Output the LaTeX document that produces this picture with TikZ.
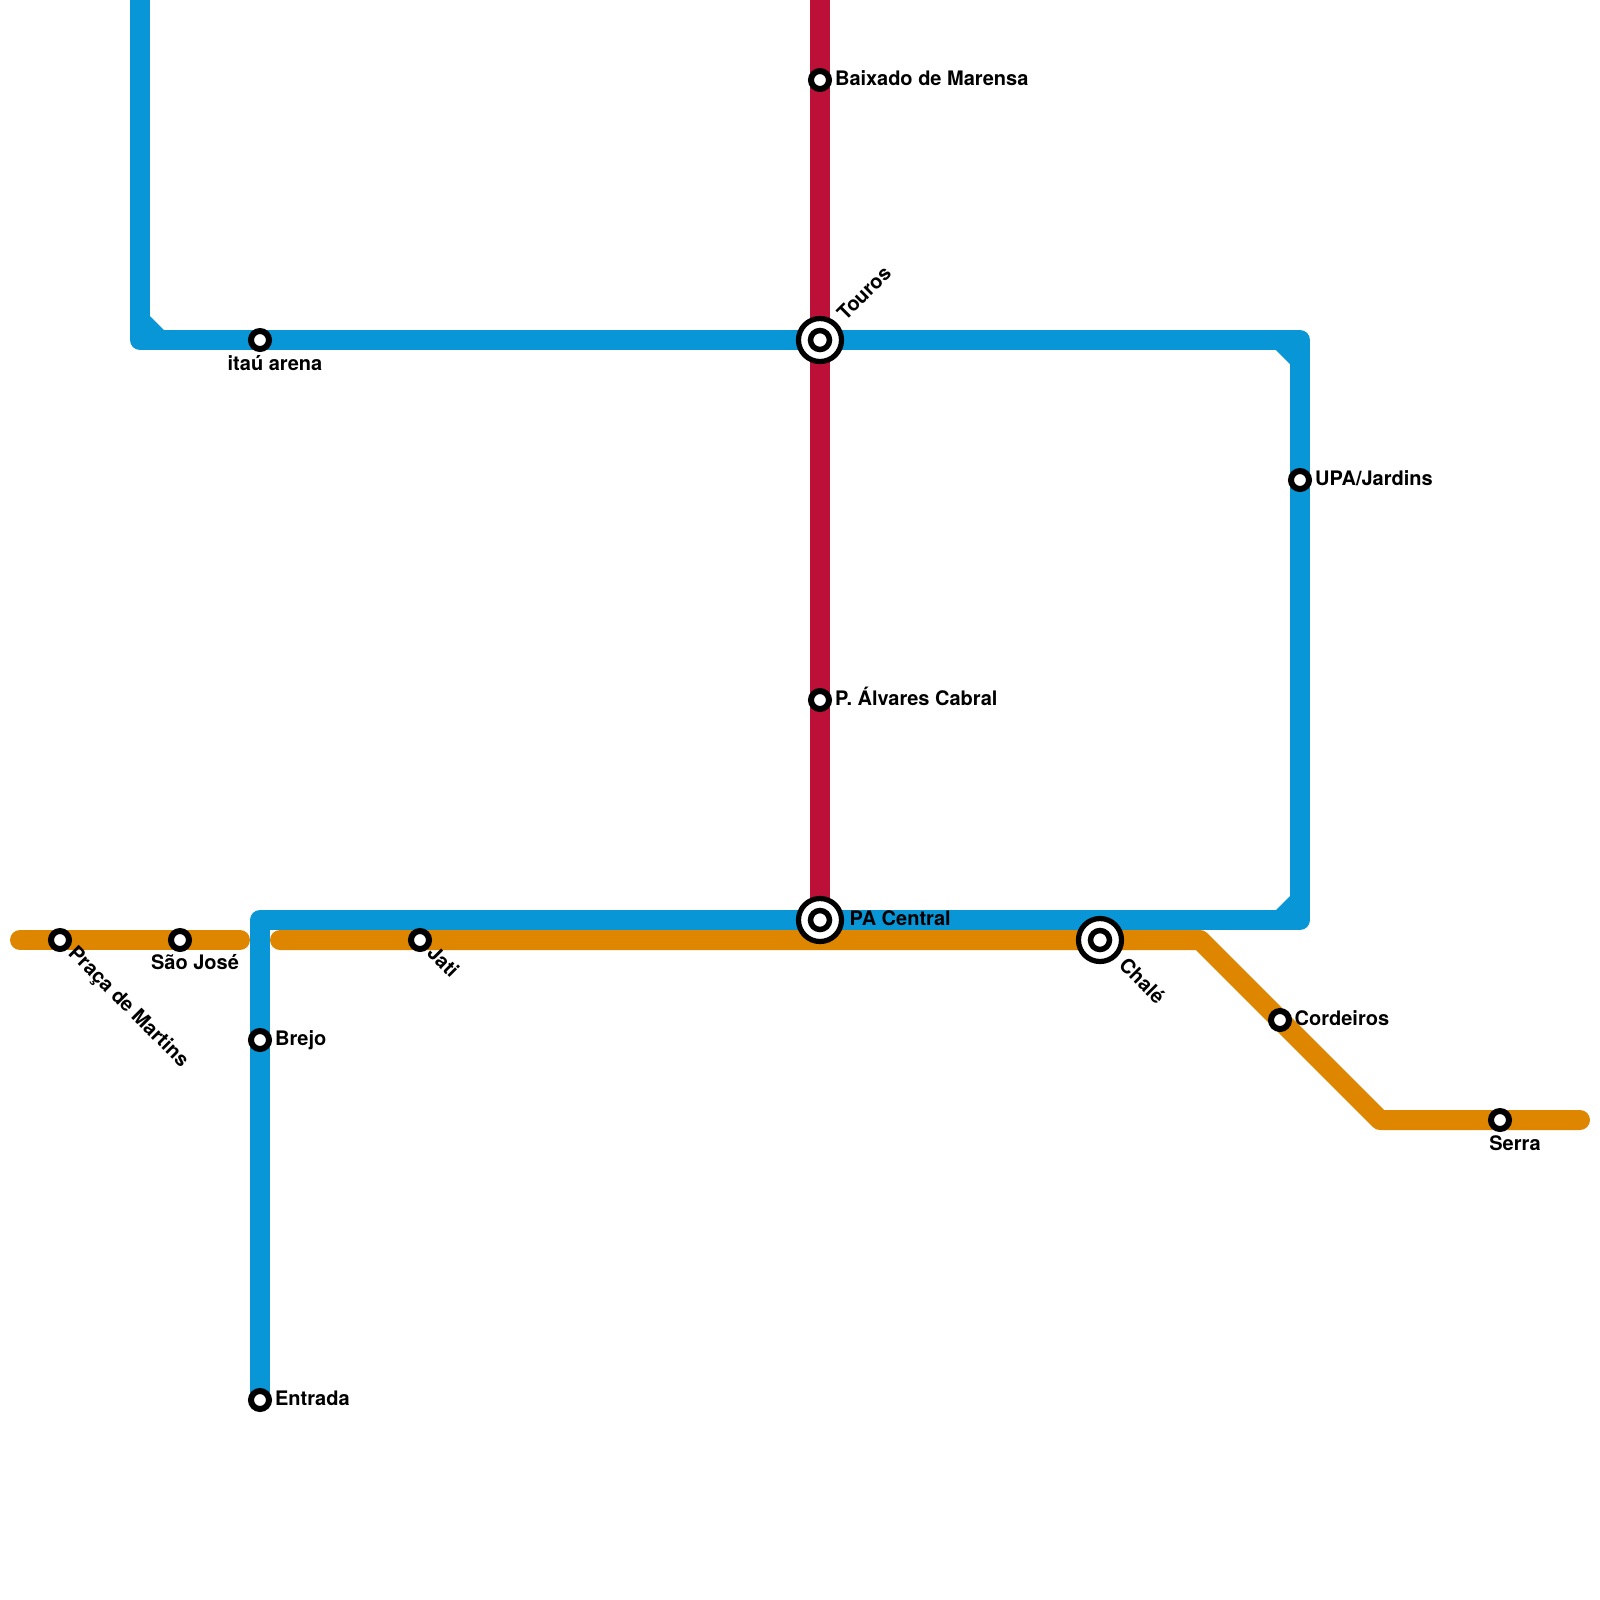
\documentclass[tikz,border=0pt]{standalone}
\usepackage{fontspec}
\setmainfont{TeX Gyre Heros}
\usetikzlibrary{backgrounds}
\definecolor{LineBlue}{HTML}{0896D7}
\definecolor{LineOrange}{HTML}{DF8600}
\definecolor{LineRed}{HTML}{BD1038}
\tikzset{
    metroline/.style={line width=0.2cm,line join=round},
    stn/.style={circle,draw=black,fill=white,line width=0.06cm,minimum size=0.18cm,inner sep=0pt,outer sep=0pt},
    xchgouter/.style={circle,draw=black,fill=white,line width=0.052cm,minimum size=0.43cm,inner sep=0pt,outer sep=0pt},
    xchginner/.style={circle,draw=black,fill=white,line width=0.055cm,minimum size=0.19cm,inner sep=0pt,outer sep=0pt},
    lbl/.style={font=\fontsize{5.69}{7}\selectfont\bfseries,inner sep=0pt,text=black}
}
\begin{document}
\begin{tikzpicture}[x=0.2cm,y=-0.2cm]
    \useasboundingbox (0,0) rectangle (80,80);
    \coordinate (blueTop) at (7,0);
    \coordinate (blueA) at (7,17);
    \coordinate (blueB) at (65,17);
    \coordinate (blueC) at (65,46);
    \coordinate (blueD) at (13,46);
    \coordinate (orangeW) at (1,47);
    \coordinate (orangeX) at (12,47);
    \coordinate (orangeY) at (14,47);
    \coordinate (orangeA) at (60,47);
    \coordinate (orangeB) at (69,56);
    \coordinate (orangeZ) at (79,56);
    \coordinate (redTop) at (41,0);
    \foreach \n/\px/\py in {itau/13/17,pracaM/3/47,saojose/9/47,jati/21/47,brejo/13/52,entrada/13/70,baixado/41/4,alvares/41/35,upa/65/24,cordeiros/64/51,serra/75/56} {
        \node[stn] (\n) at (\px,\py) {};
    }
    \foreach \n/\px/\py in {touros/41/17,pacentral/41/46,chale/55/47} {
        \node[xchgouter] (\n) at (\px,\py) {};
        \node[xchginner] (\n-in) at (\n.center) {};
    }
    \node[lbl,anchor=base] (itau-lbl) at ([shift={(0.75,1.5)}]itau.center) {itaú arena};
    \node[lbl,anchor=base west,rotate=-45] (pracaM-lbl) at ([shift={(0.35,0.7)}]pracaM.center) {Praça de Martins};
    \node[lbl,anchor=base] (saojose-lbl) at ([shift={(0.75,1.45)}]saojose.center) {São José};
    \node[lbl,anchor=base west,rotate=-45] (jati-lbl) at ([shift={(0.28,0.7)}]jati.center) {Jati};
    \node[lbl,anchor=base west] (brejo-lbl) at ([shift={(0.72,0.25)}]brejo.center) {Brejo};
    \node[lbl,anchor=base west] (entrada-lbl) at ([shift={(0.72,0.25)}]entrada.center) {Entrada};
    \node[lbl,anchor=base west] (baixado-lbl) at ([shift={(0.72,0.25)}]baixado.center) {Baixado de Marensa};
    \node[lbl,anchor=base west] (alvares-lbl) at ([shift={(0.72,0.25)}]alvares.center) {P. Álvares Cabral};
    \node[lbl,anchor=base west] (upa-lbl) at ([shift={(0.72,0.25)}]upa.center) {UPA/Jardins};
    \node[lbl,anchor=base west] (cordeiros-lbl) at ([shift={(0.7,0.25)}]cordeiros.center) {Cordeiros};
    \node[lbl,anchor=base] (serra-lbl) at ([shift={(0.75,1.5)}]serra.center) {Serra};
    \node[lbl,anchor=base west,rotate=45] (touros-lbl) at ([shift={(1.25,-0.9)}]touros.center) {Touros};
    \node[lbl,anchor=base west] (pacentral-lbl) at ([shift={(1.45,0.25)}]pacentral.center) {PA Central};
    \node[lbl,anchor=base west,rotate=-45] (chale-lbl) at ([shift={(0.87,1.3)}]chale.center) {Chalé};
    \begin{scope}[on background layer]
        \draw[metroline,LineRed] (redTop) -- (baixado.center) -- (touros.center) -- (alvares.center) -- (pacentral.center);
        \draw[metroline,LineBlue] (blueTop) -- (blueA) -- (itau.center) -- (touros.center) -- (blueB) -- (upa.center) -- (blueC) -- (pacentral.center) -- (blueD) -- (brejo.center) -- (entrada.center);
        \draw[metroline,LineOrange,line cap=round] (orangeW) -- (pracaM.center) -- (saojose.center) -- (orangeX);
        \draw[metroline,LineOrange,line cap=round] (orangeY) -- (jati.center) -- (chale.center) -- (orangeA) -- (cordeiros.center) -- (orangeB) -- (serra.center) -- (orangeZ);
        \fill[LineBlue] (7.5,15.8) -- (7.5,16.5) -- (8.2,16.5) -- cycle;
        \fill[LineBlue] (63.8,17.5) -- (64.5,17.5) -- (64.5,18.2) -- cycle;
        \fill[LineBlue] (64.5,44.8) -- (64.5,45.5) -- (63.8,45.5) -- cycle;
    \end{scope}
\end{tikzpicture}
\end{document}
